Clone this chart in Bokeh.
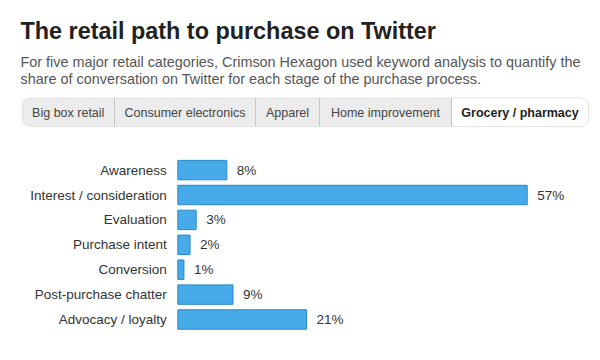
from bokeh.plotting import figure
from bokeh.models import Range1d, BoxAnnotation, ColumnDataSource
from bokeh.core.properties import value
from bokeh.embed import file_html
from bokeh.resources import INLINE

# ---- data ----
title = "The retail path to purchase on Twitter"
subtitle = [
    "For five major retail categories, Crimson Hexagon used keyword analysis to quantify the",
    "share of conversation on Twitter for each stage of the purchase process.",
]
tabs = ["Big box retail", "Consumer electronics", "Apparel", "Home improvement", "Grocery / pharmacy"]
selected_tab = "Grocery / pharmacy"
stages = ["Awareness", "Interest / consideration", "Evaluation", "Purchase intent",
          "Conversion", "Post-purchase chatter", "Advocacy / loyalty"]
shares = [8, 57, 3, 2, 1, 9, 21]

# ---- layout constants ----
W, H = 600, 360
FONT = "Liberation Sans"
bar_left_px = 177.3
px_per_pct = 6.13
row0_px = 169.6
row_step = 24.9

p = figure(width=W, height=H, output_backend="svg", toolbar_location=None,
           x_range=Range1d(0, W), y_range=Range1d(H, 0),
           min_border=0, min_border_left=0, min_border_right=0,
           min_border_top=0, min_border_bottom=0)
p.axis.visible = False
p.grid.visible = False
p.outline_line_color = None
p.background_fill_color = "white"
p.border_fill_color = "white"

p.extra_x_ranges = {"val": Range1d(-bar_left_px / px_per_pct, (W - bar_left_px) / px_per_pct)}
p.extra_y_ranges = {"idx": Range1d((H - row0_px) / row_step, -row0_px / row_step)}

# ---- header ----
p.text(x=[20], y=[30], text=[title], text_font=value(FONT), text_font_size="23.4px",
       text_font_style="bold", text_color="#222222", text_baseline="alphabetic")
p.text(x=[20, 20], y=[61, 78], text=subtitle, text_font=value(FONT), text_font_size="14.4px",
       text_color="#555555", text_baseline="alphabetic")

# ---- tabs ----
edges = [21.5, 114, 255, 319, 451, 588]
tab_top, tab_bot = 97.5, 126
p.add_layout(BoxAnnotation(left=edges[0], right=edges[-1], top=tab_top, bottom=tab_bot,
                           fill_color="#ececec", fill_alpha=1, line_color="#c4c4c4",
                           line_width=1, border_radius=8, level="underlay"))
sel_i = tabs.index(selected_tab)
p.add_layout(BoxAnnotation(left=edges[sel_i], right=edges[sel_i + 1], top=tab_top, bottom=tab_bot,
                           fill_color="white", fill_alpha=1, line_color="#c4c4c4", line_width=1,
                           border_radius=dict(top_left=0, top_right=8, bottom_right=8, bottom_left=0),
                           level="underlay"))
p.quad(left=[edges[0] + 4], right=[edges[sel_i]], top=[tab_top + 1], bottom=[tab_top + 10],
       fill_color="#f4f4f4", line_color=None, level="underlay")
for e in edges[1:-1]:
    p.segment(x0=[e], x1=[e], y0=[tab_top], y1=[tab_bot], line_color="#c4c4c4", line_width=1)
centers = [(edges[i] + edges[i + 1]) / 2 for i in range(len(tabs))]
normal = [t for t in tabs if t != selected_tab]
p.text(x=[centers[i] for i, t in enumerate(tabs) if t != selected_tab], y=[112] * len(normal),
       text=normal, text_font=value(FONT), text_font_size="12.5px", text_color="#444444",
       text_align="center", text_baseline="middle")
p.text(x=[centers[sel_i]], y=[112], text=[selected_tab], text_font=value(FONT),
       text_font_size="12.5px", text_font_style="bold", text_color="#1e1e1e",
       text_align="center", text_baseline="middle")

# ---- bars ----
idx = list(range(len(stages)))
src = ColumnDataSource(dict(idx=idx, share=shares, stage=stages,
                            label=[f"{v}%" for v in shares], zero=[0] * len(shares)))
p.hbar(y="idx", left="zero", right="share", height=0.78, source=src,
       x_range_name="val", y_range_name="idx",
       fill_color="#47abea", line_color="#2b88c8", line_width=1)
p.text(x="share", y="idx", text="label", source=src, x_range_name="val", y_range_name="idx",
       x_offset=10, text_font=value(FONT), text_font_size="13.5px", text_color="#333333",
       text_baseline="middle", text_align="left")
p.text(x="zero", y="idx", text="stage", source=src, x_range_name="val", y_range_name="idx",
       x_offset=-11, text_font=value(FONT), text_font_size="13.5px", text_color="#333333",
       text_baseline="middle", text_align="right")

open("out.html", "w").write(file_html(p, INLINE))
